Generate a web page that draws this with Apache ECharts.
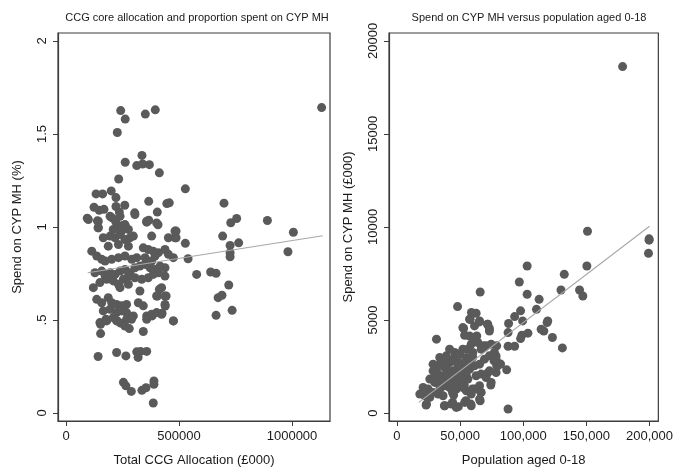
<!DOCTYPE html>
<html>
<head>
<meta charset="utf-8">
<script src="https://cdn.jsdelivr.net/npm/echarts@6/dist/echarts.min.js"></script>
<style>
html,body{margin:0;padding:0;background:#fff;}
#chart{width:676px;height:472px;}
</style>
</head>
<body>
<div id="chart"></div>
<script>
// Left panel: [Total CCG allocation (£000), spend on CYP MH (%)]
var allocationVsPct = [
[1131000,1.642],[242000,1.626],[395000,1.630],[351000,1.607],[262000,1.580],[227000,1.508],[336000,1.385],[262000,1.348],
[313000,1.330],[339000,1.339],[369000,1.335],[413000,1.291],[233000,1.258],[528000,1.205],[200000,1.194],[133000,1.178],
[162000,1.178],[221000,1.158],[366000,1.138],[446000,1.126],[457000,1.130],[699000,1.128],[260000,1.117],[124000,1.106],
[147000,1.090],[168000,1.095],[221000,1.110],[236000,1.080],[304000,1.076],[404000,1.080],[94000,1.047],[139000,1.033],
[204000,1.049],[755000,1.046],[729000,1.023],[891000,1.035],[1006000,0.972],[357000,1.026],[366000,1.036],[407000,1.012],
[221000,1.026],[251000,1.008],[262000,1.004],[142000,0.996],[209000,0.987],
[982000,0.867],[764000,0.915],[726000,0.901],[726000,0.862],[726000,0.840],[693000,0.951],[487000,0.978],[487000,0.942],
[528000,0.912],[540000,0.829],[578000,0.745],[640000,0.758],[664000,0.751],[720000,0.688],[673000,0.620],[690000,0.633],
[735000,0.552],[664000,0.525],[475000,0.495],[439000,0.575],[425000,0.536],[443000,0.629],[404000,0.629],[413000,0.665],
[381000,0.522],[357000,0.504],[342000,0.438],[313000,0.329],[330000,0.331],[357000,0.331],[319000,0.299],[224000,0.325],
[265000,0.307],[142000,0.304],[153000,0.427],[153000,0.477],[177000,0.504],[254000,0.165],[265000,0.146],[289000,0.116],
[336000,0.122],[354000,0.136],[389000,0.172],[389000,0.154],[386000,0.054],
[99000,1.040],[143000,1.031],[195000,1.058],[239000,1.058],[305000,1.067],[357000,1.031],[401000,1.022],
[143000,0.996],[232000,1.004],[261000,1.013],[246000,0.978],[276000,0.987],
[165000,0.942],[195000,0.951],[217000,0.942],[239000,0.960],[261000,0.933],[283000,0.942],[298000,0.951],
[187000,0.897],[232000,0.906],[276000,0.897],[379000,0.951],[453000,0.942],[482000,0.942],[482000,0.978],
[114000,0.870],[136000,0.844],[158000,0.826],[173000,0.817],[202000,0.826],[232000,0.835],[261000,0.844],[291000,0.826],[313000,0.835],
[342000,0.888],[364000,0.879],[386000,0.870],[409000,0.862],[438000,0.879],[453000,0.853],[475000,0.835],
[350000,0.835],[379000,0.817],[394000,0.844],
[128000,0.754],[158000,0.763],[173000,0.736],[195000,0.754],[217000,0.745],[239000,0.763],[261000,0.772],[283000,0.754],
[305000,0.781],[327000,0.790],[350000,0.799],[372000,0.781],[394000,0.772],[416000,0.790],[438000,0.781],
[150000,0.701],[180000,0.719],[209000,0.710],[232000,0.692],[254000,0.719],[276000,0.736],[305000,0.727],[335000,0.719],
[364000,0.727],[386000,0.745],[409000,0.754],[438000,0.736],
[121000,0.674],[239000,0.674],[276000,0.692],[327000,0.656],[423000,0.674],[401000,0.629],[438000,0.629],
[136000,0.611],[158000,0.593],[187000,0.620],[202000,0.593],[224000,0.584],[246000,0.576],[268000,0.584],[320000,0.593],
[342000,0.576],[438000,0.584],
[165000,0.549],[195000,0.558],[224000,0.540],[246000,0.549],[268000,0.540],[298000,0.522],[357000,0.522],[379000,0.531],
[401000,0.540],[423000,0.531],
[180000,0.495],[150000,0.486],[224000,0.495],[268000,0.504],[475000,0.495],
[209000,0.513],[227000,0.495],[242000,0.483],[261000,0.468],[280000,0.454],[290000,0.504]
];
// Fitted line endpoints, left panel
var allocationFit = [[96000,0.754],[1136000,0.953]];

// Right panel: [population aged 0-18, spend on CYP MH (£000)]
var populationVsSpend = [
[178700,18615],[150900,9770],[199700,9360],[199700,9290],[199200,8580],[150400,7900],[103100,7900],[132500,7450],
[96900,7040],[129900,6610],[103100,6380],[144600,6610],[147200,6290],[65900,6500],[112600,6110],[110500,5570],
[97900,5490],[93200,5180],[99500,4950],[88400,4810],[119400,4950],[118900,4860],[114200,4500],[116300,4410],
[103700,4290],[98900,4180],[97900,4000],[88000,4320],[123100,4060],[131000,3500],[88000,3590],[93200,3590],
[79000,3610],[88000,214],[86900,2320],[79000,2540],[82100,2630],[76900,2800],[78500,3070],[74300,1500],[71700,2140],
[48000,5720],[52800,4540],[59000,5400],[57500,5040],[65400,4950],[71700,4770],[73200,4540],[63200,4140],[61700,3970],
[31300,3970],[68500,3610],[69000,3520],
[66400,1110],[65900,660],[58500,480],[54600,660],[48600,340],[44100,570],[37600,390],[23100,430],[44900,965],[53300,1500],[59800,1290],
[62700,5360],[58000,5040],[65400,4895],[61400,4680],[71900,4770],[73200,4410],
[52200,4590],[53600,4180],[57500,4140],[41700,3430],
[61400,4055],[64000,3787],[58800,3700],[56200,3430],[60100,3250],[66700,3430],[70600,3610],[74600,3700],[77200,3250],
[78500,2893],[79800,2536],[78500,2180],
[36500,2893],[33900,2625],[37800,2447],[41700,2715],[45700,2804],[49600,2715],[53600,2536],[57500,2357],[61400,2536],
[65400,2625],[69300,2893],[73200,3072],
[28600,2268],[32600,2090],[36500,2000],[40400,2180],[44400,2268],[48300,2090],[52200,1910],[56200,1822],[49600,1643],
[45700,1732],[41700,1822],
[26000,1822],[29900,1643],[33900,1553],[37800,1464],[41700,1374],[47000,1285],[52200,1374],[54900,1196],
[20700,1374],[24700,1285],[28600,1106],[32600,1017],[18100,1017],[22000,928],[26000,838],[36500,928],
[62700,2000],[66700,2090],[70600,1910],[74600,1643],[65400,1464],[61400,1285],[58800,1017],[66700,1106],[73200,2268],
[23400,481],[37800,392],[43000,481],[47000,302],[53600,570],[58800,392],[65400,750],
[44400,2893],[48300,2536],[50900,2268],[54900,2090],[39100,2447],[31200,1643],[35200,1822],
[45700,3250],[49600,3161],[54900,2983],[52200,3430],[57500,2804],[39100,3072],[33900,2983],[28600,2625],[31200,2357],
[42500,2000],[46000,1500],[50000,1900],[34000,1300],[39000,1650],[44000,1100],[30000,1950],[55500,2600],[60000,3000]
];
// Fitted line endpoints, right panel
var populationFit = [[17300,573],[200000,10040]];

var leftXTicks = [0, 500000, 1000000];
var leftYTicks = [0, 0.5, 1, 1.5, 2];
var rightXTicks = [0, 50000, 100000, 150000, 200000];
var rightYTicks = [0, 5000, 10000, 15000, 20000];

var FONT = '"Liberation Sans", Arial, sans-serif';
var TXT = '#1a1a1a';
var FRAME = '#3c3c3c';
var DOT = '#5a5a5a';
var FIT = '#a8a8a8';

function xAxisCfg(idx, min, max, ticks, name, fmt) {
  return {
    type: 'value', gridIndex: idx, min: min, max: max,
    name: name, nameLocation: 'middle', nameGap: 33,
    nameTextStyle: {fontFamily: FONT, fontSize: 13, color: TXT},
    axisLine: {show: true, onZero: false, lineStyle: {color: FRAME, width: 1.2}},
    axisTick: {show: true, inside: false, length: 5, customValues: ticks, lineStyle: {color: FRAME}},
    axisLabel: {show: true, margin: 9, customValues: ticks, fontFamily: FONT, fontSize: 13, color: TXT, formatter: fmt},
    splitLine: {show: false}
  };
}
function yAxisCfg(idx, min, max, ticks, name, fmt) {
  return {
    type: 'value', gridIndex: idx, min: min, max: max,
    name: name, nameLocation: 'middle', nameGap: 34,
    nameTextStyle: {fontFamily: FONT, fontSize: 13, color: TXT},
    axisLine: {show: true, onZero: false, lineStyle: {color: FRAME, width: 1.2}},
    axisTick: {show: true, inside: false, length: 5, customValues: ticks, lineStyle: {color: FRAME}},
    axisLabel: {show: true, rotate: 90, margin: 9, customValues: ticks, fontFamily: FONT, fontSize: 13, color: TXT, formatter: fmt},
    splitLine: {show: false}
  };
}

var chart = echarts.init(document.getElementById('chart'), null, {renderer: 'canvas'});
chart.setOption({
  backgroundColor: '#ffffff',
  animation: false,
  title: [
    {text: 'CCG core allocation and proportion spent on CYP MH', left: 192, top: 7, textAlign: 'center',
     textStyle: {fontFamily: FONT, fontSize: 11, fontWeight: 'normal', color: TXT}},
    {text: 'Spend on CYP MH versus population aged 0-18', left: 524, top: 7, textAlign: 'center',
     textStyle: {fontFamily: FONT, fontSize: 11, fontWeight: 'normal', color: TXT}}
  ],
  grid: [
    {left: 58, right: 346, top: 33, bottom: 50, show: true, borderColor: FRAME, borderWidth: 1.2, backgroundColor: '#fff'},
    {left: 389, right: 16, top: 33, bottom: 50, show: true, borderColor: FRAME, borderWidth: 1.2, backgroundColor: '#fff'}
  ],
  xAxis: [
    xAxisCfg(0, -35400, 1168000, leftXTicks, 'Total CCG Allocation (£000)', function (v) { return String(v); }),
    xAxisCfg(1, -6300, 207000, rightXTicks, 'Population aged 0-18', function (v) { return v.toLocaleString('en-US'); })
  ],
  yAxis: [
    yAxisCfg(0, -0.043, 2.043, leftYTicks, 'Spend on CYP MH (%)', function (v) {
      var s = String(v); return s.indexOf('0.') === 0 ? s.slice(1) : s; }),
    yAxisCfg(1, -429, 20420, rightYTicks, 'Spend on CYP MH (£000)', function (v) { return String(v); })
  ],
  series: [
    {type: 'scatter', xAxisIndex: 0, yAxisIndex: 0, data: allocationVsPct, symbolSize: 9,
     itemStyle: {color: DOT, opacity: 1}, z: 3},
    {type: 'line', xAxisIndex: 0, yAxisIndex: 0, data: allocationFit, symbol: 'none',
     lineStyle: {color: FIT, width: 1.2}, z: 4},
    {type: 'scatter', xAxisIndex: 1, yAxisIndex: 1, data: populationVsSpend, symbolSize: 9,
     itemStyle: {color: DOT, opacity: 1}, z: 3},
    {type: 'line', xAxisIndex: 1, yAxisIndex: 1, data: populationFit, symbol: 'none',
     lineStyle: {color: FIT, width: 1.2}, z: 4}
  ]
});
</script>
</body>
</html>
